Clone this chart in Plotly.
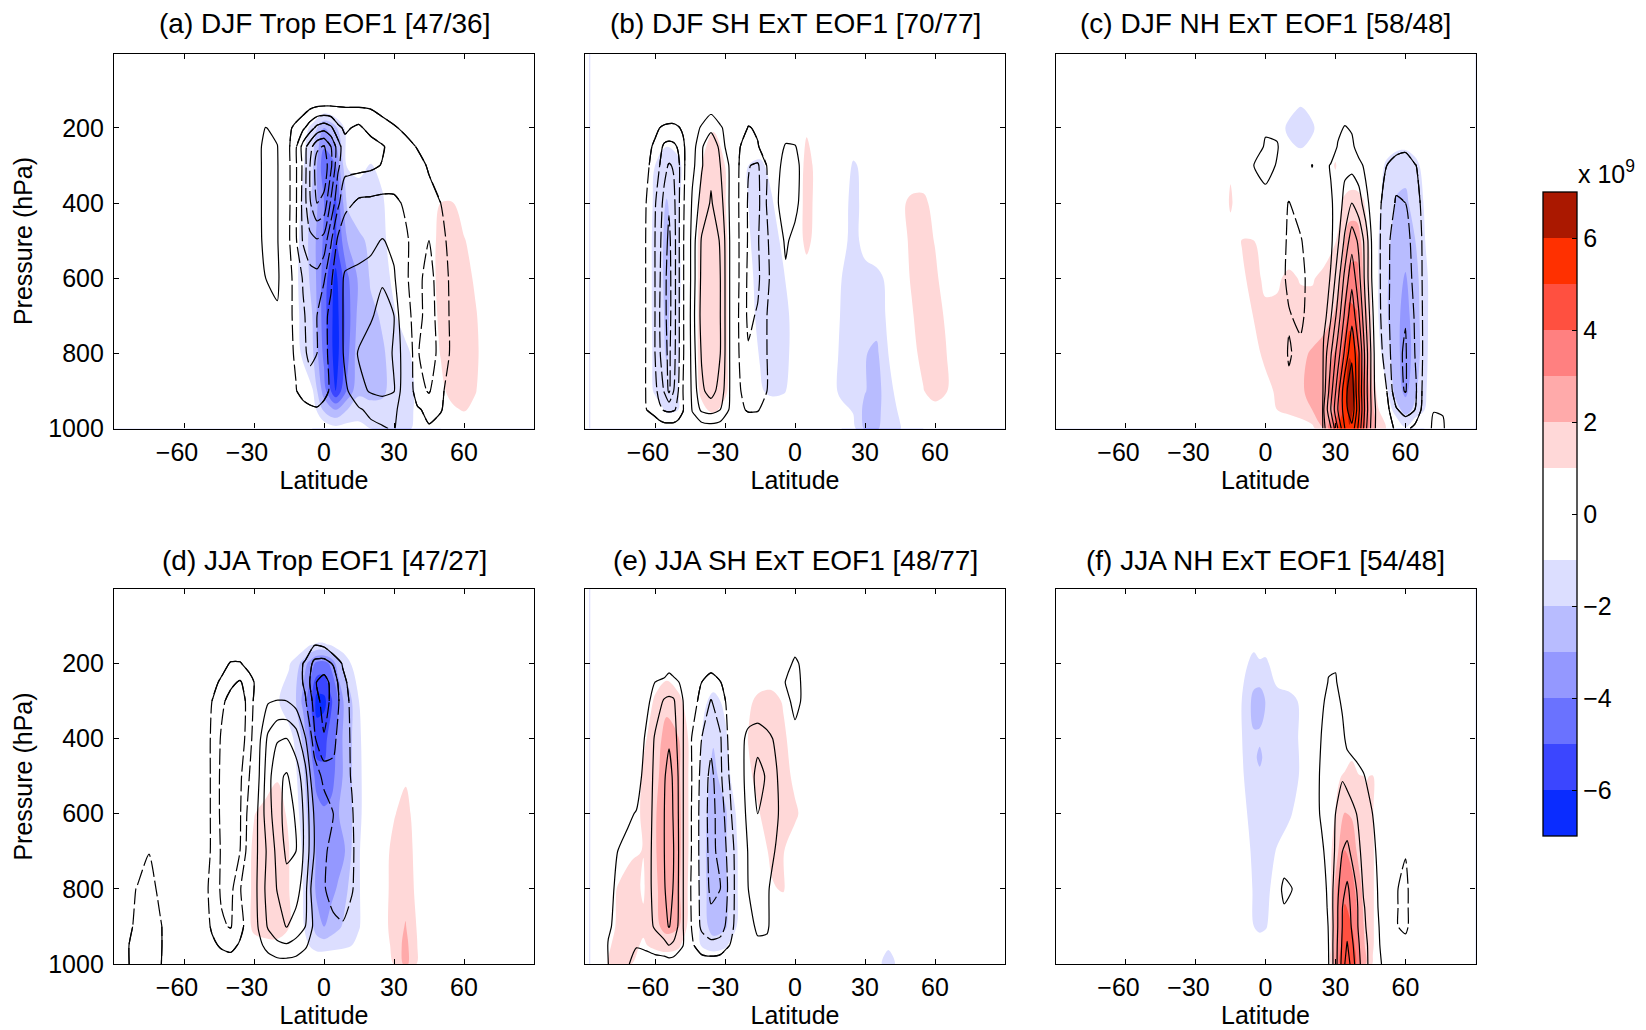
import plotly.graph_objects as go

W, H = 1646, 1030
LAT_TICKS = [-60, -30, 0, 30, 60]
P_TICKS = [200, 400, 600, 800, 1000]
CB_TICKS = [-6, -4, -2, 0, 2, 4, 6]
BAND_COLORS = ["#0a2cff", "#3b46ff", "#6a72ff", "#9498ff", "#b8bcff", "#dcdeff", "#ffffff",
               "#ffffff", "#ffd8d8", "#ffaaaa", "#ff8080", "#ff5040", "#ff3000", "#aa1800"]
TITLES = ["(a) DJF Trop EOF1 [47/36]", "(b) DJF SH ExT EOF1 [70/77]", "(c) DJF NH ExT EOF1 [58/48]",
          "(d) JJA Trop EOF1 [47/27]", "(e) JJA SH ExT EOF1 [48/77]", "(f) JJA NH ExT EOF1 [54/48]"]

# Each table: pressure -> {latitude: value}; a value that is left out is zero.
A_FILL = {
150: {0:-.4},
200: {-10:-.4,-5:-1.3,0:-3,5:-2.2,10:-.6,15:-.2},
300: {-10:-.7,-5:-1.8,0:-4.8,5:-4,10:-.9,15:-.8,20:-1.05,25:-.8,30:-.2},
400: {-15:-.3,-10:-1,-5:-2.2,0:-4,5:-5.2,10:-1.8,15:-1.4,20:-1.4,25:-1.1,30:-.5,50:1,55:1.05,60:.3},
500: {-15:-.4,-10:-1.1,-5:-2.5,0:-4.2,5:-5.2,10:-3,15:-2.2,20:-1.8,25:-1.2,30:-.6,45:.7,50:1.2,55:1.5,60:1.1,65:.4},
600: {-15:-.3,-10:-1.2,-5:-2.3,0:-4.5,5:-6.3,10:-4.2,15:-2.8,20:-1.9,25:-1.4,30:-.8,45:.6,50:1.3,55:1.7,60:1.5,65:.8},
700: {-15:-.3,-10:-1.1,-5:-2,0:-4.6,5:-6.5,10:-4.5,15:-2.6,20:-2.2,25:-1.9,30:-1.1,35:-.6,45:.5,50:1.2,55:1.8,60:1.7,65:1.1,70:.3},
800: {-15:-.2,-10:-1,-5:-1.8,0:-4.3,5:-6.6,10:-4.3,15:-2.3,20:-2.3,25:-2.1,30:-1.7,35:-1.2,40:-.7,45:.3,50:1.05,55:1.7,60:1.7,65:1.2,70:.4},
900: {-10:-.4,-5:-.9,0:-3.5,5:-6,10:-3.8,15:-2.2,20:-2.4,25:-2.2,30:-1.6,35:-1.3,40:-.9,45:.1,50:.7,55:1.4,60:1.6,65:1.05,70:.3},
950: {-5:-.4,0:-2.2,5:-3,10:-2,15:-1.5,20:-1.6,25:-1.7,30:-1.3,35:-1.2,40:-.9,50:.2,55:.8,60:1.1,65:.7},
1000: {0:-.3,5:-.7,10:-.6,15:-.7,20:-1,25:-1.2,30:-1.2,35:-1.1,40:-.9,45:-.3},
}
A_LINE = {
150: {-12:-.3,-9:-.6,-6:-1,-3:-1.15,0:-1.2,3:-1.2,6:-1.15,9:-1.1,15:-1.1,20:-1,25:-.8,30:-.5,35:-.2},
200: {-30:.2,-25:1.05,-20:.6,-15:-.8,-12:-1.3,-9:-1.8,-6:-2.5,-3:-3.3,0:-3.6,3:-3.2,6:-2.2,9:-1.85,15:-2.2,20:-1.6,25:-1.3,30:-1.1,35:-.8,40:-.4},
250: {-30:.3,-25:1.4,-20:1.05,-15:-.9,-12:-1.9,-9:-3.4,-6:-4.6,-3:-5.8,0:-6.1,3:-5,6:-3.5,9:-2.3,15:-2.4,20:-2.5,25:-2.1,30:-1.6,35:-1.3,40:-.95,45:-.6},
300: {-30:.3,-25:1.4,-20:1.1,-15:-.85,-12:-1.9,-9:-3.2,-6:-5,-3:-6.5,0:-6.7,3:-5.2,6:-3.2,9:-2.3,15:-2.3,20:-2.2,25:-1.95,30:-1.5,35:-1.4,40:-1.3,45:-.9,50:-.4},
400: {-30:.3,-25:1.4,-20:1.1,-15:-.85,-12:-1.9,-9:-3.3,-6:-4.9,-3:-6,0:-5.7,3:-3.8,6:-2.2,9:-1.3,15:-.8,20:-.75,25:-.7,30:-.85,35:-1.1,40:-1.2,45:-1.3,50:-1,55:-.5},
500: {-30:.4,-25:1.3,-20:1.1,-15:-.9,-12:-1.9,-9:-3.1,-6:-3.7,-3:-3.9,0:-3.6,3:-2.1,6:-.8,9:-.3,15:.2,20:.6,25:1.1,30:.6,35:-.9,40:-1.3,45:-2,50:-1.25,55:-.7,60:-.1},
600: {-25:1,-20:1.3,-15:-.85,-12:-1.2,-9:-2.1,-6:-2.6,-3:-2.7,0:-2.1,3:-1.2,6:0,9:1.3,15:1.5,20:1.6,25:1.9,30:1.2,35:-.8,40:-1.7,45:-2.4,50:-1.4,55:-.8,60:-.1},
700: {-25:.3,-20:.8,-15:-.8,-12:-1.25,-9:-1.85,-6:-2.4,-3:-2,0:-1.3,3:-.7,6:.5,9:1.2,15:1.5,20:1.9,25:2.3,30:2,35:-.5,40:-1.6,45:-2.5,50:-1.5,55:-.8,60:-.1},
800: {-15:-.75,-12:-1.15,-9:-1.8,-6:-2.2,-3:-2,0:-1.3,3:-.7,6:.4,9:1.2,15:2.1,20:2.4,25:2.5,30:1.9,35:.3,40:-1.9,45:-2.6,50:-1.6,55:-.8,60:-.1},
900: {-15:-.6,-12:-.95,-9:-1.4,-6:-1.6,-3:-1.6,0:-1.3,3:-.85,6:-.2,9:.8,15:1.7,20:2.1,25:2.2,30:2.05,35:.1,40:-1.6,45:-2.1,50:-1.2,55:-.5},
950: {-15:-.2,-12:-.4,-9:-.6,-6:-.8,-3:-.9,0:-.7,3:-.4,9:.5,15:.9,20:1.2,25:1.5,30:1.3,35:.2,40:-.85,45:-1.3,50:-1.1,55:-.3},
1000: {0:-.2,3:-.2,9:.2,15:.5,20:.8,25:.9,30:1.1,35:.1,40:-.4,45:-.9,50:-.5,55:-.1},
}

B_FILL = {
200: {-55:-.7,-50:-.4,-40:.2,-35:.95,-30:.8,0:.2,5:.9},
300: {-60:-1,-55:-1.3,-50:-1.2,-45:-.4,-40:1,-35:1.4,-30:1,-25:.2,-20:-1,-15:-1.2,-10:-.7,0:.2,5:1.3,10:.7,20:-.2,25:-1.15,30:-.7},
400: {-65:-.2,-60:-1.2,-55:-2.1,-50:-1.2,-45:.2,-40:1.2,-35:1.6,-30:1.05,-25:.2,-20:-1,-15:-1.3,-10:-1.1,-5:-.4,0:.4,5:1.3,10:.7,20:-.6,25:-1.3,30:-.7,45:.7,50:1.3,55:1.35,60:.5},
500: {-65:-.2,-60:-1.3,-55:-2.3,-50:-1.2,-45:.2,-40:1.4,-35:1.8,-30:1.2,-25:.2,-20:-.9,-15:-1.4,-10:-1.4,-5:-.8,0:.3,5:1.3,10:.5,20:-.7,25:-1.3,30:-.7,45:.6,50:1.2,55:1.4,60:.95,65:.3},
600: {-65:-.2,-60:-1.3,-55:-2.3,-50:-1.3,-45:.2,-40:1.4,-35:1.8,-30:1.2,-25:.2,-20:-.7,-15:-1.4,-10:-1.5,-5:-1.1,0:-.4,5:.5,15:-.3,20:-1,25:-1.3,30:-1.3,35:-1.4,40:-.7,45:.5,50:1.1,55:1.6,60:1.2,65:.5},
700: {-65:-.2,-60:-1.3,-55:-2.2,-50:-1.2,-45:.2,-40:1.4,-35:1.8,-30:1.2,-25:.2,-20:-.6,-15:-1.3,-10:-1.6,-5:-1.4,0:-.6,15:-.4,20:-1.1,25:-1.5,30:-1.5,35:-1.6,40:-.8,45:.2,50:.9,55:1.5,60:1.5,65:.8,70:.1},
800: {-60:-1.3,-55:-2.1,-50:-1.1,-45:.2,-40:1.4,-35:1.8,-30:1.2,-25:.2,-20:-.3,-15:-1.1,-10:-1.6,-5:-1.4,0:-.6,15:-.5,20:-1.2,25:-1.6,30:-1.95,35:-2.2,40:-1,45:-.2,50:.7,55:1.3,60:1.6,65:1,70:.2},
900: {-60:-1.2,-55:-1.6,-50:-1,-45:.3,-40:1.2,-35:1.6,-30:1.2,-25:.2,-15:-.8,-10:-1.4,-5:-1.2,0:-.3,15:-.5,20:-1.3,25:-1.7,30:-1.95,35:-2.4,40:-1.4,45:-.5,50:.3,55:.95,60:1.5,65:1.05,70:.2},
950: {-60:-.3,-55:-1.2,-50:-1,-40:.8,-35:1.2,-30:.7,20:-.7,25:-1.1,30:-2.3,35:-2.4,40:-1.3,45:-.9,50:-.2,55:.1,60:.6,65:.5},
1000: {25:-.7,30:-2.2,35:-2.2,40:-1.2,45:-1.05,50:-.5},
}
B_LINE = {
150: {-36:.7},
200: {-60:-.6,-58:-1,-56:-1.2,-54:-1.3,-52:-1.3,-50:-1.1,-48:-.8,-44:.2,-40:1.2,-36:1.8,-32:1.2,-28:.3,-20:-1.1,-16:-.8},
250: {-64:-.4,-60:-1.3,-58:-1.7,-56:-2.2,-54:-2.3,-52:-2.2,-50:-1.9,-48:-1.3,-44:.5,-40:1.9,-36:2.6,-32:1.8,-28:.2,-24:-.9,-20:-1.6,-16:-1.1,-12:-.3,-4:1.2,0:1.1,4:.2},
300: {-64:-.7,-60:-1.5,-58:-2,-56:-2.7,-54:-3.1,-52:-2.9,-50:-2.2,-48:-1.4,-44:.7,-40:1.9,-36:2.8,-32:2,-28:.9,-24:-1,-20:-1.95,-16:-2.15,-12:-.95,-8:.5,-4:1.6,0:1.5,4:.4},
400: {-64:-.95,-60:-1.9,-58:-2.6,-56:-3.3,-54:-3.9,-52:-3.3,-50:-2.2,-48:-1.3,-44:1.2,-40:2.4,-36:3.1,-32:2.4,-28:.9,-24:-1.05,-20:-2.1,-16:-2.3,-12:-.9,-8:.8,-4:1.7,0:1.4,4:.3},
500: {-64:-1,-60:-2,-58:-2.8,-56:-3.6,-54:-4.2,-52:-3.5,-50:-2.2,-48:-1.2,-44:1.5,-40:3.1,-36:3.7,-32:2.9,-28:1,-24:-1,-20:-2.1,-16:-2.1,-12:-1.2,-8:.2,-4:1.2,0:.6},
600: {-64:-1,-60:-2,-58:-2.9,-56:-3.8,-54:-4.3,-52:-3.5,-50:-2.2,-48:-1.2,-44:1.5,-40:3.2,-36:3.8,-32:3,-28:1,-24:-1,-20:-2.2,-16:-2.2,-12:-1.2,-8:-.4,-4:.8},
700: {-64:-1,-60:-2,-58:-3,-56:-3.8,-54:-4.3,-52:-3.5,-50:-2.2,-48:-1.2,-44:1.6,-40:3.3,-36:3.8,-32:3,-28:1,-24:-1.1,-20:-2.2,-16:-1.9,-12:-1,-8:-.3},
800: {-64:-1,-60:-2,-58:-2.9,-56:-3.7,-54:-4.2,-52:-3.4,-50:-2.2,-48:-1.2,-44:1.5,-40:3.1,-36:3.7,-32:3,-28:1,-24:-1,-20:-1.9,-16:-1.6,-12:-1,-8:-.3},
900: {-64:-1,-60:-1.7,-58:-2.4,-56:-3.1,-54:-4.2,-52:-3,-50:-2,-48:-1,-44:1.3,-40:2.8,-36:3.4,-32:2.6,-28:1,-24:-.9,-20:-1.4,-16:-1.3,-12:-1,-8:-.2},
950: {-64:-.95,-60:-1.4,-58:-1.8,-56:-2.1,-54:-2.2,-52:-2.1,-50:-1.8,-48:-1.1,-44:1.1,-40:2.2,-36:2.4,-32:2,-28:.9,-24:-.7,-20:-1.15,-16:-1.1,-12:-.5},
1000: {-60:-.3,-58:-.4,-56:-.5,-54:-.5,-52:-.5,-50:-.3,-48:-.2,-44:.2,-40:.4,-36:.5,-32:.4,-28:.2},
}

C_FILL = {
150: {10:-.6,15:-1.15,20:-.7},
200: {5:-.3,10:-1.3,15:-1.6,20:-1.2,25:-.2},
300: {-15:.8,10:-.2,15:-.5,20:-.2,25:.3,30:1.1,33:.2,48:-.5,52:-1.2,56:-1.6,60:-1.7,64:-1.3,68:-.7},
400: {-15:1.2,30:.2,33:1.1,36:1.5,39:1.5,42:1.1,45:.3,48:-.8,52:-1.4,56:-2.1,60:-2.2,64:-1.6,68:-.95},
500: {-15:.4,-10:1.05,-5:1,0:.3,25:.3,30:.95,33:1.8,36:2.5,39:2.5,42:1.7,45:.8,48:-.9,52:-1.8,56:-2.3,60:-2.5,64:-2.05,68:-1.1,72:-.2},
600: {-10:.85,-5:1.3,0:.8,5:.8,10:1.3,15:.9,20:.9,25:1.3,30:1.7,33:2.2,36:3.3,39:3.4,42:2,45:1.05,48:-.9,52:-1.9,56:-2.6,60:-3.1,64:-2.4,68:-1.4,72:-.4},
700: {-10:.4,-5:1.05,0:1.2,5:1.3,10:1.6,15:1.5,20:1.4,25:1.6,30:2.1,33:3.1,36:4.4,39:4.1,42:2.8,45:1.4,48:-.9,52:-1.9,56:-2.7,60:-3.4,64:-2.5,68:-1.5,72:-.3},
800: {-5:.6,0:1.3,5:1.5,10:1.6,15:1.8,20:2.1,25:2.4,30:3.1,33:4.1,36:5.9,39:5.1,42:3.3,45:1.95,48:-.6,52:-1.6,56:-2.6,60:-3.6,64:-2.6,68:-1.5,72:-.2},
900: {0:.6,5:1.2,10:1.5,15:1.8,20:2.4,25:2.8,30:3.4,33:5.2,36:6.7,39:5.9,42:4.4,45:2.6,48:.6,52:-.9,56:-2.4,60:-3.3,64:-2.2,68:-1.3,72:-.1},
950: {5:1,10:1.3,15:1.6,20:2,25:2.2,30:3.2,33:4.9,36:6.4,39:5.6,42:4.2,45:2.7,48:1.2,52:-.2,56:-1.6,60:-2.4,64:-1.8,68:-1.05},
1000: {10:.1,15:.3,20:.7,25:2,30:4.6,33:5.5,36:5.9,39:5.5,42:4.2,45:2.5,48:1.8,52:.9,60:-.9},
}
C_LINE = {
250: {-5:.1,0:1.2,5:1.1,10:0,28:.2,31:1.1,34:1.6,37:1.3,40:.4,56:-.5,60:-.6},
300: {-5:1,0:1.5,5:.9,10:.1,20:1.05,25:.6,28:1.1,31:1.5,34:1.8,37:1.7,40:1.4,43:.7,46:.2,49:-.4,52:-1,56:-1.6,60:-1.9,64:-1.1,68:-.4},
400: {-5:.5,0:.5,5:-.4,10:-1.05,15:-.5,25:.2,28:.85,31:1.5,34:2.3,37:3,40:2.5,43:1.4,46:.4,49:-.9,52:-1.4,56:-2.1,60:-2,64:-1.4,68:-.7,72:-.1},
500: {5:-.3,10:-1.2,15:-1.1,20:-.3,25:.2,28:.8,31:1.8,34:3.2,37:4.6,40:3.8,43:2.6,46:.6,49:-.95,52:-1.7,56:-2.6,60:-2.4,64:-1.6,68:-.8,72:-.1},
600: {5:-.3,10:-1.3,15:-1.4,20:-.4,25:.4,28:1.1,31:2.6,34:4.3,37:5.7,40:4.3,43:2.6,46:.7,49:-.95,52:-1.7,56:-2.7,60:-2.6,64:-1.7,68:-.8},
700: {10:-.9,15:-1.3,20:-.3,24:.3,25:.5,28:1.9,31:3.4,34:5.2,37:6.7,40:5.1,43:3,46:1.1,49:-.9,52:-1.7,56:-2.8,60:-2.95,64:-1.9,68:-.8},
800: {5:-.2,10:-1.1,15:-.7,20:.3,25:1.4,28:2.9,31:4.5,34:6.2,37:7.8,40:6.1,43:3.5,46:1.4,49:-.7,52:-1.5,56:-2.8,60:-3.1,64:-2,68:-.8},
900: {5:-.2,10:-.8,15:-.2,20:.3,25:1.6,28:3.6,31:5.6,34:7.7,37:8.6,40:6,43:3.4,46:1.4,49:-.2,52:-1,56:-2.7,60:-3.05,64:-2.3,68:-.6},
950: {20:.2,25:2,28:4,31:6,34:7.5,37:8.8,40:6.2,43:3.5,46:1.5,49:.2,52:-.7,56:-1.9,60:-2.4,64:-2,68:-.5,72:.95,76:.9},
1000: {20:.2,25:1.8,28:2.9,31:5,34:7,37:7.7,40:5.7,43:3.2,46:1.4,49:.3,52:-.2,56:-1.3,60:-1.3,64:-.7,72:1.3,76:1.2},
}

D_FILL = {
150: {-9:-.3,-6:-.9,-3:-1.1,0:-1.1,3:-.9,6:-.5,9:-.2},
200: {-15:-.9,-12:-1.5,-9:-2.4,-6:-3.4,-3:-4.3,0:-4.4,3:-3.8,6:-2.5,9:-1.7,12:-.9,15:-.3},
300: {-20:-.9,-15:-1.5,-12:-2,-9:-3.3,-6:-4.6,-3:-6.4,0:-6.3,3:-5.2,6:-4,9:-2.7,12:-2,15:-1,18:-.3},
400: {-15:-.7,-12:-1.2,-9:-2.2,-6:-4.05,-3:-5.5,0:-5.3,3:-4.6,6:-3.7,9:-2.6,12:-2,15:-1.2,18:-.5},
500: {-25:.4,-20:.9,-15:-.2,-12:-.9,-9:-1.7,-6:-3,-3:-4.6,0:-4.8,3:-4.4,6:-3.6,9:-2.7,12:-2,15:-1.3,18:-.5,30:.3,35:.8},
600: {-30:.95,-25:1.4,-20:1.5,-15:.8,-12:-.7,-9:-1.4,-6:-2.5,-3:-3.4,0:-3.8,3:-3.7,6:-3.1,9:-2.4,12:-2,15:-1.3,18:-.5,25:.2,30:.9,35:1.5,40:.3},
700: {-35:.3,-30:1.2,-25:1.6,-20:1.6,-15:1.05,-12:-.5,-9:-1.1,-6:-2.2,-3:-3.2,0:-3.6,3:-3.6,6:-3.4,9:-3,12:-1.9,15:-1.1,18:-.4,25:.4,30:1.4,35:1.6,40:.6},
800: {-35:.4,-30:1.2,-25:1.6,-20:1.6,-15:1.05,-12:-.4,-9:-1,-6:-2.1,-3:-3.3,0:-3.5,3:-3.3,6:-2.9,9:-2.2,12:-1.7,15:-1.1,18:-.4,25:.4,30:1.5,35:1.7,40:.7},
900: {-35:.4,-30:1.2,-25:1.5,-20:1.4,-15:1.05,-12:-.3,-9:-.9,-6:-1.6,-3:-2.5,0:-3.05,3:-2.6,6:-2.2,9:-1.8,12:-1.5,15:-1.1,18:-.4,25:.4,30:1.6,35:2.05,40:.9},
950: {-30:.7,-25:.7,-20:.8,-15:.6,-9:-.3,-6:-1.1,-3:-1.5,0:-1.5,3:-1.4,6:-1.3,9:-1.2,12:-1,15:-.6,18:-.1,25:.2,30:1.4,35:2.3,40:1},
1000: {25:.1,30:1.05,35:2.3,40:.9},
}
D_LINE = {
150: {-4:-.95,0:-.8},
200: {-44:-.5,-40:-1.1,-36:-1.1,-32:-.5,-12:-.4,-8:-1.2,-4:-2.3,0:-2.4,4:-1.9,8:-.9,12:-.2},
250: {-48:-.6,-44:-1.2,-40:-1.8,-36:-2.1,-32:-1.5,-28:-.5,-12:-.5,-8:-1.2,-4:-2.9,0:-3.4,4:-2.6,8:-1.3,12:-.6},
300: {-48:-1,-44:-1.8,-40:-2.3,-36:-2.4,-32:-1.7,-28:0,-24:.9,-20:1.05,-16:1,-12:.6,-8:-.9,-4:-2.4,0:-3.5,4:-2.6,8:-1.6,12:-.7},
400: {-52:-.1,-48:-1.2,-44:-2.1,-40:-2.5,-36:-2.4,-32:-1.6,-28:.7,-24:2.2,-20:2.9,-16:3,-12:2.5,-8:1.1,-4:-1.9,0:-2.9,4:-2.2,8:-1.5,12:-.85,16:-.2},
500: {-52:-.1,-48:-1.2,-44:-2.2,-40:-2.5,-36:-2.2,-32:-1,-28:.9,-24:2.6,-20:3.8,-16:4.1,-12:3.5,-8:2.4,-4:-.2,0:-1.4,4:-1.8,8:-1.5,12:-.9,16:-.2},
600: {-52:-.1,-48:-1.2,-44:-2.2,-40:-2.6,-36:-2.1,-32:-.6,-28:1.2,-24:2.6,-20:3.6,-16:4.4,-12:3.9,-8:2.7,-4:.8,0:-.3,4:-1,8:-1.6,12:-1.1,16:-.2},
700: {-75:-.95,-52:-.1,-48:-1.2,-44:-2.1,-40:-2.5,-36:-2,-32:-.4,-28:1.2,-24:2.2,-20:3.3,-16:4.2,-12:4,-8:2.7,-4:.9,0:-.8,4:-1.4,8:-1.4,12:-1.2,16:-.2},
800: {-85:-.3,-80:-1.1,-75:-1.6,-70:-.6,-52:-.3,-48:-1.5,-44:-2.1,-40:-2.3,-36:-1.1,-32:.1,-28:1.2,-24:2.4,-20:3.05,-16:3.6,-12:3.5,-8:2.3,-4:.1,0:-.9,4:-1.5,8:-1.6,12:-1.1,16:-.2},
900: {-85:-.7,-80:-1.2,-75:-1.8,-70:-1.1,-65:-.1,-52:-.2,-48:-1.2,-44:-1.9,-40:-2.05,-36:-1.5,-32:-.2,-28:1.1,-24:2.1,-20:2.6,-16:3.05,-12:2.5,-8:2,-4:.7,0:-.2,4:-.7,8:-.9,12:-.5},
950: {-85:-.8,-80:-1.5,-75:-1.8,-70:-1.1,-65:-.2,-48:-.7,-44:-1.2,-40:-1.5,-36:-.8,-32:-.1,-28:.7,-24:1.4,-20:1.8,-16:1.9,-12:1.7,-8:1.2,-4:.3},
1000: {-85:-.7,-80:-1.7,-75:-1.8,-70:-1.05,-65:-.2,-44:-.2,-40:-.2,-36:-.1,-24:.4,-20:.6,-16:.6,-12:.5,-8:.2},
}

E_FILL = {
200: {-55:.4},
300: {-60:1.2,-55:1.7,-50:1.3,-45:.4,-40:-.7,-35:-1.3,-30:-.8,-25:.2,-20:.8,-15:1.3,-10:1.4,-5:.9,0:.2},
400: {-65:.8,-60:1.5,-55:2.4,-50:2.05,-45:.8,-40:-1.05,-35:-1.9,-30:-1.2,-25:-.2,-20:1.05,-15:1.6,-10:1.7,-5:1.2,0:.5},
500: {-65:1.2,-60:1.7,-55:2.6,-50:2.2,-45:.8,-40:-1.3,-35:-2.3,-30:-1.5,-25:-.4,-20:.8,-15:1.4,-10:1.8,-5:1.5,0:.7},
600: {-70:.2,-65:1.3,-60:1.9,-55:2.7,-50:2.3,-45:.8,-40:-1.5,-35:-2.6,-30:-2.2,-25:-.9,-20:.4,-15:1,-10:1.5,-5:1.5,0:1.2,5:.5},
700: {-75:.3,-70:.9,-65:1.02,-60:1.9,-55:2.7,-50:2.3,-45:.8,-40:-1.6,-35:-2.7,-30:-2.1,-25:-1.1,-20:.2,-15:.6,-10:1.2,-5:1.05,0:.4},
800: {-80:.5,-75:1.2,-70:1.3,-65:.9,-60:1.8,-55:2.6,-50:2.2,-45:.7,-40:-1.5,-35:-2.7,-30:-2.2,-25:-1.1,-15:.2,-10:.9,-5:1.1,0:.1},
900: {-80:.7,-75:1.2,-70:1.3,-65:1.15,-60:1.7,-55:2.4,-50:2.1,-45:.6,-40:-1.4,-35:-2.5,-30:-2.2,-25:-1,-20:-.1},
950: {-80:.9,-75:1.3,-70:1.2,-65:.9,-60:1.2,-55:1.4,-50:1.2,-45:.2,-40:-1.1,-35:-1.5,-30:-1.2,-25:-.3,40:-.7},
1000: {-85:.2,-80:1.05,-75:1.3,-70:1,-65:.5,-60:.3,-55:.3,-50:.2,35:-.3,40:-1.9,45:-.3},
}
E_LINE = {
200: {-54:.6,-36:-.6,-4:.6,0:1.2,4:.7},
250: {-60:1,-56:1.3,-54:1.4,-52:1.4,-48:.7,-46:.1,-44:-.1,-40:-1,-36:-1.4,-32:-1.05,-28:-.3,-4:1.05,0:1.3,4:.8},
300: {-64:.6,-60:1.5,-56:2.1,-54:2.2,-52:2.1,-48:1.02,-46:.1,-44:-.5,-40:-1.4,-36:-2.05,-32:-1.5,-28:-.6,-4:.7,0:1.3,4:.8},
400: {-68:.1,-64:1.15,-60:2.1,-56:2.5,-54:2.85,-52:2.4,-48:1.1,-46:-.5,-44:-1.1,-40:-2,-36:-2.7,-32:-2.1,-28:-.7,-24:.4,-20:1.4,-16:1.7,-12:1.3,-8:.8,-4:.2,0:.7,4:.3},
500: {-68:.5,-64:1.4,-60:2.2,-56:2.9,-54:3.4,-52:2.8,-48:1.1,-46:-.6,-44:-1.05,-40:-2.3,-36:-3.3,-32:-2.2,-28:-.9,-24:.4,-20:1.5,-16:2.3,-12:1.9,-8:1.1,-4:.2},
600: {-72:.85,-68:1.05,-64:1.6,-60:2.2,-56:3,-54:3.5,-52:2.9,-48:1.1,-46:-.6,-44:-1.1,-40:-2.4,-36:-3.4,-32:-2.5,-28:-1.3,-24:.3,-20:1.3,-16:2,-12:1.9,-8:1.2,-4:.3},
700: {-76:1,-72:1.2,-68:1.3,-64:1.7,-60:2.2,-56:3,-54:3.6,-52:3,-48:1.1,-46:-.6,-44:-1.1,-40:-2.4,-36:-3.3,-32:-2.7,-28:-1.6,-24:-.3,-20:1.1,-16:1.6,-12:1.5,-8:.9,-4:.1},
800: {-80:.7,-76:1.2,-72:1.3,-68:1.35,-64:1.7,-60:2.2,-56:2.9,-54:3.5,-52:2.9,-48:1.1,-46:-.6,-44:-1.2,-40:-2.3,-36:-3.2,-32:-3,-28:-1.7,-24:-.3,-20:1,-16:1.4,-12:1.15,-8:.5},
900: {-84:.1,-80:.9,-76:1.2,-72:1.3,-68:1.35,-64:1.6,-60:2.1,-56:2.7,-54:3.05,-52:2.7,-48:1.1,-46:-.6,-44:-1.1,-40:-2.2,-36:-2.7,-32:-2.5,-28:-1.5,-24:-.3,-20:.6,-16:1.2,-12:1.2,-8:.2},
950: {-84:.2,-80:1.05,-76:1.2,-72:1.1,-68:1.05,-64:1.2,-60:1.5,-56:1.7,-54:2.02,-52:1.8,-48:1.05,-46:-.3,-44:-.9,-40:-1.5,-36:-1.7,-32:-1.6,-28:-1,-24:-.2,-20:.3,-16:.8,-12:.7},
1000: {-84:.3,-80:1,-76:1.2,-72:1.1,-68:.7,-64:.5,-60:.5,-56:.5,-54:.5,-52:.5,-48:.3,-44:-.3,-40:-.5,-36:-.5,-32:-.4,-28:-.2},
}

F_FILL = {
150: {-5:-.8,0:-.6},
200: {-10:-.7,-5:-1.3,-2.5:-1.3,0:-1.2,5:-.5,10:-.1},
300: {-10:-1.05,-5:-2.3,-2.5:-2.4,0:-1.98,5:-1.3,10:-1.3,15:-.9},
400: {-15:-.2,-10:-1,-5:-1.9,-2.5:-1.85,0:-1.8,5:-1.5,10:-1.4,15:-.9,20:-.2},
450: {-15:-.1,-10:-.95,-5:-1.8,-2.5:-2.2,0:-1.75,5:-1.45,10:-1.35,15:-.95,20:-.1,34:.7,37:.9},
500: {-15:-.1,-10:-.9,-5:-1.6,-2.5:-1.8,0:-1.6,5:-1.4,10:-1.3,15:-.95,20:-.1,28:.2,31:.9,34:1.1,37:1.4,40:1.1,43:.95,46:1.05,49:.2},
600: {-10:-.7,-5:-1.4,-2.5:-1.5,0:-1.5,5:-1.3,10:-1.15,15:-.6,28:.7,31:1.2,34:2.05,37:1.9,40:1.4,43:1.2,46:1.05,49:.3},
700: {-10:-.5,-5:-1.2,-2.5:-1.3,0:-1.3,5:-.95,10:-.5,15:-.1,25:.1,28:.9,31:1.9,34:3.05,37:2.6,40:1.7,43:1.3,46:1.1,49:.4},
800: {-10:-.3,-5:-1.1,-2.5:-1.2,0:-1.2,5:-.7,10:-.2,25:.2,28:.9,31:3.2,34:3.8,37:3.4,40:2.4,43:1.4,46:1.1,49:.4},
900: {-5:-1,-2.5:-1.2,0:-1.1,5:-.4,25:.1,28:1.05,31:3.4,34:4.3,37:4,40:2.95,43:1.6,46:1.1,49:.4},
950: {-5:-.3,-2.5:-.6,0:-.5,28:1,31:3.5,34:4.6,37:4.6,40:3.1,43:1.8,46:1.1,49:.3},
1000: {28:1.05,31:3.6,34:4.8,37:4.8,40:3.3,43:2,46:.9,49:.1},
}
F_LINE = {
250: {24:.1,27:1.1,30:1.2,33:.1},
300: {24:.8,27:1.3,30:1.4,33:.8,35:.1},
400: {24:1.05,27:1.4,30:1.6,33:1.3,35:.7,39:.2},
500: {20:.3,24:1.2,27:1.5,30:1.8,33:1.9,35:1.7,39:1.5,42:1.1,45:.5,48:.1},
600: {20:.4,24:1.15,27:1.6,30:2,33:2.6,35:2.5,39:2,42:1.5,45:1.2,48:.5,51:.1},
700: {20:.1,24:.8,27:1.4,30:2.1,33:3,35:3.2,39:2.5,42:1.6,45:1.3,48:.9,51:.2,60:-.9},
800: {8:1.4,24:.3,27:1.3,30:2.4,33:3.7,35:4.2,39:3,42:1.9,45:1.5,48:1,51:.2,56:-.9,60:-1.4},
850: {8:.9,24:.2,27:1.2,30:2.5,33:4,35:4.4,39:3.2,42:2.1,45:1.5,48:1.05,51:.3,56:-.9,60:-1.4},
900: {24:.2,27:1.05,30:2.5,33:4.05,35:4.6,39:3.2,42:2.2,45:1.6,48:1.2,51:.3,56:-.9,60:-1.4},
950: {24:.1,27:1,30:2.6,33:4.2,35:5.1,39:3.4,42:2.4,45:1.7,48:1.3,51:.4,60:-.4},
1000: {27:.95,30:2.6,33:4.4,35:5.6,39:3.6,42:2.5,45:1.7,48:1.4,51:.7},
}

SLIVER_LAT = {1: -88, 4: -88}
# Boxes (lat0, lat1, p0, p1) in which negative lines read as unbroken in the reference
SOLID_BOXES = [
    [(-90, 90, 100, 250), (9, 60, 250, 400), (-90, 90, 900, 1000)],
    [(-90, 90, 100, 300), (-90, 90, 950, 1000)],
    [(-90, 90, 100, 400), (40, 90, 900, 1000)],
    [(-90, 90, 100, 300), (-90, 90, 900, 1000)],
    [(-90, 90, 100, 300), (-90, 90, 950, 1000)],
    [],
]
FIELDS = [(A_FILL, A_LINE), (B_FILL, B_LINE), (C_FILL, C_LINE), (D_FILL, D_LINE), (E_FILL, E_LINE), (F_FILL, F_LINE)]
X_SPANS = [(114, 534), (585, 1005), (1055.5, 1475.5)]
Y_SPANS = [(53.5, 428.5), (589, 964)]
TITLE_Y = [23, 560]


def grid(table, full=False):
    lats = {l for row in table.values() for l in row}
    lats |= {max(-90, min(lats) - 4), min(90, max(lats) + 4)}
    ps = set(table) | {100, 1000}
    if full:
        # carry the zero field past the frame, so its outline falls outside the axes
        lats |= {-94, 94}
        ps |= {-10, 1020}
    lats = sorted(lats)
    ps = sorted(ps)
    z = [[table.get(p, {}).get(l, 0) for l in lats] for p in ps]
    return lats, ps, z


def px(x):
    return x / W


def py(y):
    return 1 - y / H


def tick_text(v):
    # the digits, not the digits and the minus, sit centred on the tick
    return "\u2212" + str(-v) + "\u00a0\u00a0" if v < 0 else str(v)


def line_trace(x, y, z, start, end, dash, xa, ya):
    return go.Contour(x=x, y=y, z=z, autocontour=False, showscale=False, hoverinfo="skip",
                      contours=dict(start=start, end=end, size=1, coloring="none"),
                      line=dict(color="black", width=1.2, dash=dash, smoothing=0.6),
                      xaxis=xa, yaxis=ya)


scale = []
for i, c in enumerate(BAND_COLORS):
    scale += [[i / 14, c], [(i + 1) / 14, c]]

fig = go.Figure()
layout = {}
annotations = []
for i, (fill, lines) in enumerate(FIELDS):
    n = "" if i == 0 else str(i + 1)
    xa, ya = "x" + n, "y" + n
    col, row = i % 3, i // 3
    x0, x1 = X_SPANS[col]
    y0, y1 = Y_SPANS[row]
    lx, ly, lz = grid(fill, full=True)
    extra = {}
    if i == 0:
        extra = dict(showscale=True, colorbar=dict(
            x=px(1543), xanchor="left", xpad=0, y=py(192 + 322), yanchor="middle", ypad=0,
            len=644, lenmode="pixels", thickness=34, thicknessmode="pixels",
            outlinecolor="black", outlinewidth=1.3, ticks="inside", ticklen=5, tickcolor="black",
            tickvals=CB_TICKS, ticktext=[str(t).replace("-", "\u2212") for t in CB_TICKS],
            tickfont=dict(family="Liberation Sans", size=25, color="black")))
    else:
        extra = dict(showscale=False)
    fig.add_trace(go.Contour(x=lx, y=ly, z=lz, zmin=-7, zmax=7, autocontour=False, colorscale=scale,
                             contours=dict(start=-7.001, end=7, size=1, coloring="fill", showlines=False),
                             line=dict(width=0), hoverinfo="skip", xaxis=xa, yaxis=ya, **extra))
    if i in SLIVER_LAT:
        fig.add_trace(go.Scatter(x=[SLIVER_LAT[i]] * 2, y=[2, 1000], mode="lines", hoverinfo="skip",
                                 line=dict(color=BAND_COLORS[5], width=1.2), showlegend=False,
                                 xaxis=xa, yaxis=ya))
    gx, gy, gz = grid(lines)
    fig.add_trace(line_trace(gx, gy, gz, -9, -1, "16px,4px", xa, ya))
    for la0, la1, p0, p1 in SOLID_BOXES[i]:
        ci = [k for k, v in enumerate(gx) if la0 <= v <= la1]
        ri = [k for k, v in enumerate(gy) if p0 <= v <= p1]
        fig.add_trace(line_trace([gx[k] for k in ci], [gy[k] for k in ri],
                                 [[gz[r][c] for c in ci] for r in ri], -9, -1, "solid", xa, ya))
    fig.add_trace(line_trace(gx, gy, gz, 1, 9, "solid", xa, ya))

    layout["xaxis" + n] = dict(
        domain=[px(x0), px(x1)], range=[-90, 90], anchor=ya, tickvals=LAT_TICKS,
        ticktext=[tick_text(t) for t in LAT_TICKS], ticks="inside", ticklen=5,
        tickcolor="black", showline=True, linecolor="black", linewidth=1.3, mirror="allticks",
        showgrid=False, zeroline=False, ticklabelstandoff=1,
        tickfont=dict(family="Liberation Sans", size=25, color="black"),
        title=dict(text="Latitude", standoff=6, font=dict(family="Liberation Sans", size=25, color="black")))
    yax = dict(
        domain=[py(y1), py(y0)], range=[1000, 2], anchor=xa, tickvals=P_TICKS, ticks="inside", ticklen=5,
        tickcolor="black", showline=True, linecolor="black", linewidth=1.3, mirror="allticks",
        showgrid=False, zeroline=False, showticklabels=col == 0, ticklabelstandoff=4,
        tickfont=dict(family="Liberation Sans", size=25, color="black"))
    if col == 0:
        yax["title"] = dict(text="Pressure (hPa)", standoff=8,
                            font=dict(family="Liberation Sans", size=25, color="black"))
    layout["yaxis" + n] = yax
    annotations.append(dict(text=TITLES[i], x=px((x0 + x1) / 2), y=py(TITLE_Y[row]), xref="paper", yref="paper",
                            showarrow=False, xanchor="center", yanchor="middle",
                            font=dict(family="Liberation Sans", size=28, color="black")))

annotations.append(dict(text="x 10<sup>9</sup>", x=px(1606), y=py(172), xref="paper", yref="paper",
                        showarrow=False, xanchor="center", yanchor="middle",
                        font=dict(family="Liberation Sans", size=25, color="black")))
fig.update_layout(width=W, height=H,
                  margin=dict(l=0, r=0, t=0, b=0, autoexpand=False),
                  paper_bgcolor="white", plot_bgcolor="white", showlegend=False,
                  annotations=annotations, **layout)
fig.write_html("out.html", config={"displayModeBar": False},
               post_script="document.body.style.margin='0';document.documentElement.style.overflow='hidden';")
